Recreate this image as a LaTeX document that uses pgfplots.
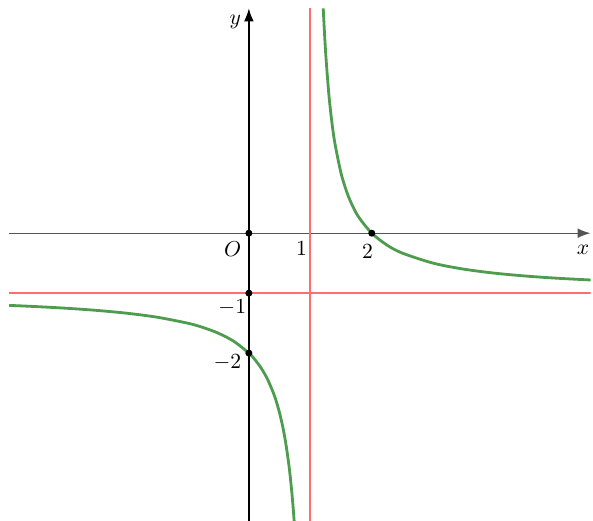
\documentclass[border=0pt]{standalone}
\usepackage{pgfplots}
\pgfplotsset{compat=1.18}
\usetikzlibrary{arrows.meta}
\definecolor{curvegreen}{RGB}{78,156,78}
\definecolor{asymred}{RGB}{255,110,110}
\definecolor{xaxgray}{RGB}{85,85,85}

\begin{document}
\begin{tikzpicture}
\begin{axis}[
  scale only axis,
  x=1cm, y=0.9756cm,
  xmin=-3.9, xmax=5.56,
  ymin=-4.8, ymax=3.75,
  axis lines=middle,
  axis line style={line width=0.6pt, -{Latex[length=6pt,width=4.5pt]}},
  x axis line style={xaxgray},
  y axis line style={black},
  xtick=\empty, ytick=\empty,
  clip=true,
  clip mode=individual,
  every node/.append style={inner sep=0pt},
]
% asymptotes
\addplot[asymred, line width=0.8pt] coordinates {(1,-4.8) (1,3.75)};
\addplot[asymred, line width=0.8pt] coordinates {(-3.9,-1) (5.6,-1)};

% left branch of y = (2-x)/(x-1)
\addplot[curvegreen, line width=1.3pt, smooth] coordinates {
  (-3.9,-1.2041) (-3.5,-1.2222) (-3,-1.25) (-2.5,-1.2857) (-2,-1.3333)
  (-1.5,-1.4) (-1,-1.5) (-0.75,-1.5714) (-0.5,-1.6667) (-0.25,-1.8)
  (0,-2) (0.1,-2.1111) (0.2,-2.25) (0.3,-2.4286) (0.4,-2.6667)
  (0.45,-2.8182) (0.5,-3) (0.55,-3.2222) (0.6,-3.5) (0.65,-3.8571)
  (0.675,-4.0769) (0.7,-4.3333) (0.72,-4.5714) (0.7368,-4.8)};

% right branch
\addplot[curvegreen, line width=1.3pt, smooth] coordinates {
  (1.2105,3.75) (1.22,3.5455) (1.25,3) (1.3,2.3333) (1.35,1.8571)
  (1.4,1.5) (1.5,1) (1.6,0.6667) (1.7,0.4286) (1.8,0.25) (2,0)
  (2.25,-0.2) (2.5,-0.3333) (3,-0.5) (3.5,-0.6) (4,-0.6667)
  (4.5,-0.7143) (5,-0.75) (5.6,-0.7826)};

% marked points
\addplot[only marks, mark=*, mark size=1.4pt, black] coordinates {
  (0,0) (2,0) (0,-1) (0,-2)};

% labels
\node at (axis cs:-0.265,-0.26) {$O$};
\node at (axis cs:0.855,-0.26) {$1$};
\node at (axis cs:1.93,-0.31) {$2$};
\node at (axis cs:-0.27,-1.245) {$-1$};
\node at (axis cs:-0.35,-2.16) {$-2$};
\node at (axis cs:5.44,-0.28) {$x$};
\node at (axis cs:-0.22,3.53) {$y$};
\coordinate (bbl) at (axis cs:-4.05,-4.8);
\coordinate (btr) at (axis cs:5.6,3.89);
\end{axis}
\pgfresetboundingbox
\path (bbl) rectangle (btr);
\end{tikzpicture}
\end{document}
